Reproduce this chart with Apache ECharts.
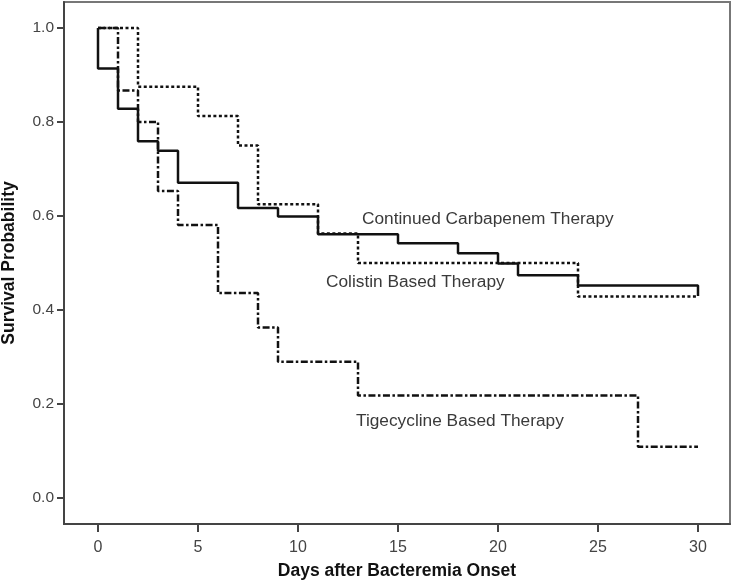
<!DOCTYPE html>
<html>
<head>
<meta charset="utf-8">
<script src="https://cdn.jsdelivr.net/npm/echarts@6/dist/echarts.min.js"></script>
<style>
  html, body { margin: 0; padding: 0; background: #fff; }
  #chart { width: 733px; height: 582px; }
</style>
</head>
<body>
<div id="chart"></div>
<script>
// Kaplan-Meier step data
const carbaDays = [0, 0, 1, 2, 3, 4, 7, 9, 11, 15, 18, 20, 21, 24, 30];
const carbaSurv = [1, 0.914, 0.828, 0.759, 0.739, 0.671, 0.617, 0.599, 0.561, 0.542, 0.521, 0.499, 0.474, 0.452, 0.43];

const colDays = [0, 2, 5, 7, 8, 11, 13, 24, 30];
const colSurv = [1, 0.875, 0.8125, 0.75, 0.625, 0.5625, 0.5, 0.4286, 0.4286];

const tigDays = [0, 1, 2, 3, 4, 6, 8, 9, 13, 27, 30];
const tigSurv = [1, 0.867, 0.8, 0.653, 0.581, 0.436, 0.363, 0.29, 0.218, 0.109, 0.109];

const xTicks = [0, 5, 10, 15, 20, 25, 30];
const yTicks = [0, 0.2, 0.4, 0.6, 0.8, 1.0];

const seriesNames = ['Continued Carbapenem Therapy', 'Colistin Based Therapy', 'Tigecycline Based Therapy'];

const zip = (xs, ys) => xs.map((x, i) => [x, ys[i]]);

const chart = echarts.init(document.getElementById('chart'), null, { renderer: 'canvas' });

const axisFont = 'Liberation Sans, Arial, sans-serif';

chart.setOption({
  animation: false,
  backgroundColor: '#ffffff',
  grid: {
    left: 64, right: 3, top: 2, bottom: 58,
    outerBoundsMode: 'none',
    containLabel: false,
    show: true, borderColor: '#777', borderWidth: 2
  },
  xAxis: {
    type: 'value',
    min: -1.7, max: 31.6,
    name: 'Days after Bacteremia Onset',
    nameLocation: 'middle',
    nameGap: 38,
    nameTextStyle: { fontFamily: axisFont, fontWeight: 'bold', fontSize: 17.5, color: '#111' },
    splitLine: { show: false },
    axisLine: { show: true, onZero: false, lineStyle: { color: '#444', width: 2 } },
    axisTick: { show: true, length: 8, customValues: xTicks, lineStyle: { color: '#444', width: 2 } },
    axisLabel: { customValues: xTicks, margin: 16, fontFamily: axisFont, fontSize: 16, color: '#444' }
  },
  yAxis: {
    type: 'value',
    min: -0.0553, max: 1.0553,
    name: 'Survival Probability',
    nameLocation: 'middle',
    nameGap: 46,
    nameRotate: 90,
    nameTextStyle: { fontFamily: axisFont, fontWeight: 'bold', fontSize: 17.5, color: '#111' },
    splitLine: { show: false },
    axisLine: { show: true, onZero: false, lineStyle: { color: '#444', width: 2 } },
    axisTick: { show: true, length: 7, customValues: yTicks, lineStyle: { color: '#444', width: 2 } },
    axisLabel: { customValues: yTicks, margin: 10, fontFamily: axisFont, fontSize: 15.5, color: '#444',
      formatter: v => v.toFixed(1) }
  },
  series: [
    {
      name: seriesNames[2], type: 'line', step: 'end', symbol: 'none',
      data: zip(tigDays, tigSurv),
      lineStyle: { color: '#111', width: 2.5, type: [7, 2.5, 2.5, 2.5] }
    },
    {
      name: seriesNames[1], type: 'line', step: 'end', symbol: 'none',
      data: zip(colDays, colSurv),
      lineStyle: { color: '#111', width: 2.5, type: [3, 2.5] }
    },
    {
      name: seriesNames[0], type: 'line', step: 'end', symbol: 'none',
      data: zip(carbaDays, carbaSurv),
      lineStyle: { color: '#111', width: 2.5, type: 'solid' }
    }
  ],
  graphic: [
    { type: 'text', left: 362, top: 211, style: { text: seriesNames[0], font: '17.3px ' + axisFont, fill: '#3a3a3a' } },
    { type: 'text', left: 326, top: 274, style: { text: seriesNames[1], font: '17.3px ' + axisFont, fill: '#3a3a3a' } },
    { type: 'text', left: 356, top: 413, style: { text: seriesNames[2], font: '17.3px ' + axisFont, fill: '#3a3a3a' } }
  ]
});
</script>
</body>
</html>
